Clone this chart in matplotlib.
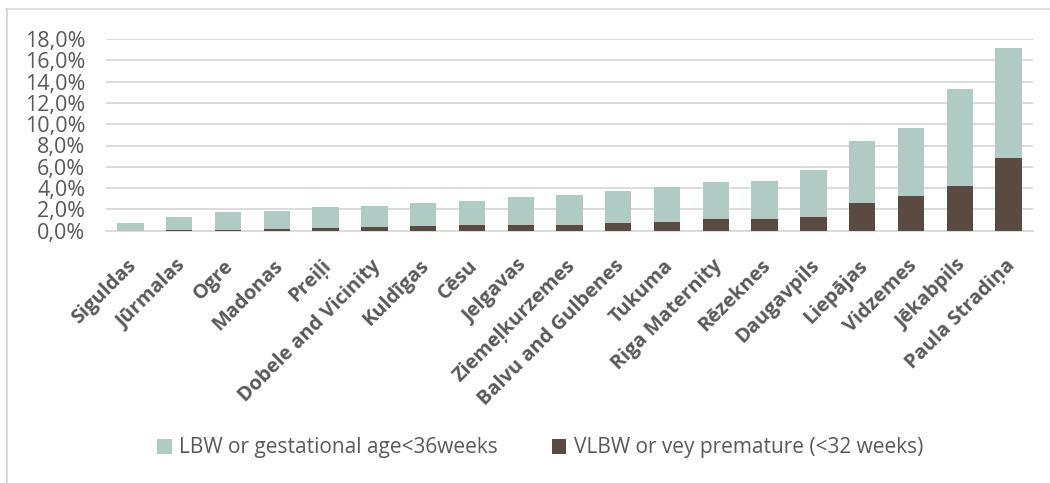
import matplotlib
matplotlib.use("Agg")
import matplotlib.pyplot as plt
from matplotlib.lines import Line2D
from matplotlib.ticker import FuncFormatter
from matplotlib.transforms import ScaledTranslation

# Hospitals, ordered by share of low-birth-weight / premature births
hospitals = [
    "Siguldas", "Jūrmalas", "Ogre", "Madonas", "Preiļi", "Dobele and Vicinity",
    "Kuldīgas", "Cēsu", "Jelgavas", "Ziemeļkurzemes", "Balvu and Gulbenes",
    "Tukuma", "Riga Maternity", "Rēzeknes", "Daugavpils", "Liepājas",
    "Vidzemes", "Jēkabpils", "Paula Stradiņa",
]

# Very low birth weight or very premature (<32 weeks), share of births
vlbw = [0.0000, 0.0002, 0.0005, 0.0016, 0.0025, 0.0035, 0.0044, 0.0057, 0.0057,
        0.0057, 0.0069, 0.0082, 0.0107, 0.0107, 0.0132, 0.0263, 0.0323, 0.0423,
        0.0686]

# Low birth weight or gestational age <36 weeks, share of births (total)
lbw_total = [0.0072, 0.0129, 0.0172, 0.0188, 0.0220, 0.0232, 0.0260, 0.0276,
             0.0316, 0.0335, 0.0376, 0.0413, 0.0456, 0.0466, 0.0570, 0.0842,
             0.0964, 0.1330, 0.1715]

series_labels = ["LBW or gestational age<36weeks", "VLBW or vey premature (<32 weeks)"]
y_ticks = [0.00, 0.02, 0.04, 0.06, 0.08, 0.10, 0.12, 0.14, 0.16, 0.18]

light = "#B0CBC4"
dark = "#5A4A42"
text_gray = "#595959"
grid_gray = "#D9D9D9"

W, H = 1050, 483
fig = plt.figure(figsize=(W / 100, H / 100), dpi=100)
ax = fig.add_axes([106 / W, 1 - 230.7 / H, (1033 - 106) / W, (230.7 - 39) / H])

x = list(range(len(hospitals)))
lbw_part = [t - v for t, v in zip(lbw_total, vlbw)]
ax.bar(x, vlbw, width=0.54, color=dark, label=series_labels[1], zorder=3)
ax.bar(x, lbw_part, bottom=vlbw, width=0.54, color=light,
       label=series_labels[0], zorder=3)

ax.set_xlim(-0.5, len(hospitals) - 0.5)
ax.set_ylim(0, 0.18)
ax.set_yticks(y_ticks)
ax.yaxis.set_major_formatter(FuncFormatter(lambda v, _: f"{v * 100:.1f}%".replace(".", ",")))
ax.grid(axis="y", color=grid_gray, linewidth=1.3, zorder=0)
for s in ["top", "right", "left"]:
    ax.spines[s].set_visible(False)
ax.spines["bottom"].set_color(grid_gray)
ax.spines["bottom"].set_linewidth(1.3)
ax.tick_params(axis="y", length=0, pad=15, labelsize=15.5, labelcolor=text_gray)
ax.tick_params(axis="x", length=0, pad=18)
for lab in ax.get_yticklabels():
    lab.set_fontfamily("Open Sans")

ax.set_xticks(x)
ax.set_xticklabels(hospitals, rotation=45, ha="right", rotation_mode="anchor",
                   fontsize=14.4, fontweight="bold", color=text_gray,
                   fontfamily="Open Sans")
shift = ScaledTranslation(-4 / 100, 0, fig.dpi_scale_trans)
for lab in ax.get_xticklabels():
    lab.set_transform(lab.get_transform() + shift)

handles, labels = ax.get_legend_handles_labels()
leg = fig.legend(handles[::-1], labels[::-1], loc="center",
                 bbox_to_anchor=(540 / W, 1 - 448 / H), ncol=2, frameon=False,
                 prop={"family": "Open Sans", "size": 15},
                 handlelength=0.7, handleheight=0.7, handletextpad=0.35,
                 columnspacing=2.6)
for t in leg.get_texts():
    t.set_color(text_gray)

# Chart-area frame (top and left edges)
fig.add_artist(Line2D([6 / W, 1.0], [1 - 9 / H, 1 - 9 / H], color=grid_gray, lw=1.2))
fig.add_artist(Line2D([7 / W, 7 / W], [0.0, 1 - 9 / H], color=grid_gray, lw=1.5))

fig.savefig("out.png", dpi=100)
